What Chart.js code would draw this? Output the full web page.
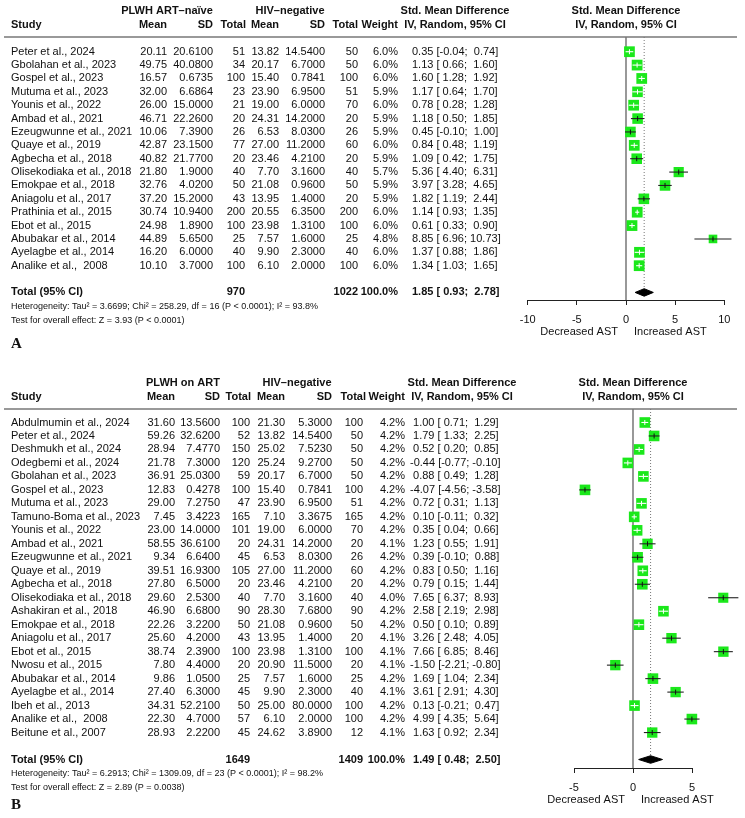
<!DOCTYPE html>
<html><head><meta charset="utf-8">
<script src="https://cdn.jsdelivr.net/npm/chart.js@4.4.1/dist/chart.umd.min.js"></script>
<style>
html,body{margin:0;padding:0;background:#fff;}
#wrap{position:relative;width:745px;height:818px;overflow:hidden;background:#fff;}
canvas{position:absolute;left:0;}
</style></head><body>
<div id="wrap">
<canvas id="cA" width="745" height="360" style="top:0;width:745px;height:360px"></canvas>
<canvas id="cB" width="745" height="458" style="top:360px;width:745px;height:458px"></canvas>
</div>
<script>
// ---------- Panel A data ----------
const studiesA = ["Peter et al., 2024","Gbolahan et al., 2023","Gospel et al., 2023","Mutuma et al., 2023","Younis et al., 2022","Ambad et al., 2021","Ezeugwunne et al., 2021","Quaye et al., 2019","Agbecha et al., 2018","Olisekodiaka et al., 2018","Emokpae et al., 2018","Aniagolu et al., 2017","Prathinia et al., 2015","Ebot et al., 2015","Abubakar et al., 2014","Ayelagbe et al., 2014","Analike et al.,  2008"];
const meanExpA = [20.11,49.75,16.57,32.00,26.00,46.71,10.06,42.87,40.82,21.80,32.76,37.20,30.74,24.98,44.89,16.20,10.10];
const sdExpA = [20.61,40.08,0.6735,6.6864,15.0,22.26,7.39,23.15,21.77,1.9,4.02,15.2,10.94,1.89,5.65,6.0,3.7];
const nExpA = [51,34,100,23,21,20,26,77,20,40,50,43,200,100,25,40,100];
const meanCtlA = [13.82,20.17,15.40,23.90,19.00,24.31,6.53,27.00,23.46,7.70,21.08,13.95,20.55,23.98,7.57,9.90,6.10];
const sdCtlA = [14.54,6.70,0.7841,6.95,6.0,14.2,8.03,11.2,4.21,3.16,0.96,1.4,6.35,1.31,1.6,2.3,2.0];
const nCtlA = [50,50,100,51,70,20,26,60,20,40,50,20,200,100,25,40,100];
const weightA = [6.0,6.0,6.0,5.9,6.0,5.9,5.9,6.0,5.9,5.7,5.9,5.9,6.0,6.0,4.8,6.0,6.0];
const smdA = [0.35,1.13,1.60,1.17,0.78,1.18,0.45,0.84,1.09,5.36,3.97,1.82,1.14,0.61,8.85,1.37,1.34];
const lowerA = [-0.04,0.66,1.28,0.64,0.28,0.50,-0.10,0.48,0.42,4.40,3.28,1.19,0.93,0.33,6.96,0.88,1.03];
const upperA = [0.74,1.60,1.92,1.70,1.28,1.85,1.00,1.19,1.75,6.31,4.65,2.44,1.35,0.90,10.73,1.86,1.65];
const totalsA = [970, 1022];
const pooledA = [1.85, 0.93, 2.78];
const hetA = ["3.6699", "258.29", "16", "< 0.0001", "93.8"];
const testA = ["3.93", "< 0.0001"];
const ticksA = [-10, -5, 0, 5, 10];

// ---------- Panel B data ----------
const studiesB = ["Abdulmumin et al., 2024","Peter et al., 2024","Deshmukh et al., 2024","Odegbemi et al., 2024","Gbolahan et al., 2023","Gospel et al., 2023","Mutuma et al., 2023","Tamuno-Boma et al., 2023","Younis et al., 2022","Ambad et al., 2021","Ezeugwunne et al., 2021","Quaye et al., 2019","Agbecha et al., 2018","Olisekodiaka et al., 2018","Ashakiran et al., 2018","Emokpae et al., 2018","Aniagolu et al., 2017","Ebot et al., 2015","Nwosu et al., 2015","Abubakar et al., 2014","Ayelagbe et al., 2014","Ibeh et al., 2013","Analike et al.,  2008","Beitune et al., 2007"];
const meanExpB = [31.60,59.26,28.94,21.78,36.91,12.83,29.00,7.45,23.00,58.55,9.34,39.51,27.80,29.60,46.90,22.26,25.60,38.74,7.80,9.86,27.40,34.31,22.30,28.93];
const sdExpB = [13.56,32.62,7.477,7.3,25.03,0.4278,7.275,3.4223,14.0,36.61,6.64,16.93,6.5,2.53,6.68,3.22,4.2,2.39,4.4,1.05,6.3,52.21,4.7,2.22];
const nExpB = [100,52,150,120,59,100,47,165,101,20,45,105,20,40,90,50,43,100,20,25,45,50,57,45];
const meanCtlB = [21.30,13.82,25.02,25.24,20.17,15.40,23.90,7.10,19.00,24.31,6.53,27.00,23.46,7.70,28.30,21.08,13.95,23.98,20.90,7.57,9.90,25.00,6.10,24.62];
const sdCtlB = [5.3,14.54,7.523,9.27,6.7,0.7841,6.95,3.3675,6.0,14.2,8.03,11.2,4.21,3.16,7.68,0.96,1.4,1.31,11.5,1.6,2.3,80.0,2.0,3.89];
const nCtlB = [100,50,50,50,50,100,51,165,70,20,26,60,20,40,90,50,20,100,20,25,40,100,100,12];
const weightB = [4.2,4.2,4.2,4.2,4.2,4.2,4.2,4.2,4.2,4.1,4.2,4.2,4.2,4.0,4.2,4.2,4.1,4.1,4.1,4.2,4.1,4.2,4.2,4.1];
const smdB = [1.00,1.79,0.52,-0.44,0.88,-4.07,0.72,0.10,0.35,1.23,0.39,0.83,0.79,7.65,2.58,0.50,3.26,7.66,-1.50,1.69,3.61,0.13,4.99,1.63];
const lowerB = [0.71,1.33,0.20,-0.77,0.49,-4.56,0.31,-0.11,0.04,0.55,-0.10,0.50,0.15,6.37,2.19,0.10,2.48,6.85,-2.21,1.04,2.91,-0.21,4.35,0.92];
const upperB = [1.29,2.25,0.85,-0.10,1.28,-3.58,1.13,0.32,0.66,1.91,0.88,1.16,1.44,8.93,2.98,0.89,4.05,8.46,-0.80,2.34,4.30,0.47,5.64,2.34];
const totalsB = [1649, 1409];
const pooledB = [1.49, 0.48, 2.50];
const hetB = ["6.2913", "1309.09", "23", "< 0.0001", "98.2"];
const testB = ["2.89", "= 0.0038"];
const ticksB = [-5, 0, 5];

// ---------- rendering ----------
const FONT = '"Liberation Sans", Arial, Helvetica, sans-serif';
const GREEN = '#1be81b';
Chart.defaults.font.family = FONT;
Chart.defaults.color = '#111';

function effStr(e, l, u, w) {
  const f = v => v.toFixed(2);
  return f(e).padStart(w[0]) + ' [' + f(l).padStart(w[1]) + '; ' + f(u).padStart(w[2]) + ']';
}

function makePanel(id, D, L) {
  const n = D.studies.length;
  const totRow = n + 1;
  const maxW = Math.max(...D.weight);
  const sideOf = i => L.sqMax * D.weight[i] / maxW;
  const inside = (chart, i) => {
    const xs = chart.scales.x;
    return Math.abs(xs.getPixelForValue(D.upper[i]) - xs.getPixelForValue(D.lower[i])) < sideOf(i);
  };
  const ci = [], est = [];
  for (let i = 0; i < n; i++) {
    ci.push({x: D.lower[i], y: i}, {x: D.upper[i], y: i}, {x: null, y: null});
    est.push({x: D.smd[i], y: i});
  }
  const wid = [0, 0, 0];
  D.smd.concat([D.pooled[0]]).forEach(v => wid[0] = Math.max(wid[0], v.toFixed(2).length));
  D.lower.concat([D.pooled[1]]).forEach(v => wid[1] = Math.max(wid[1], v.toFixed(2).length));
  D.upper.concat([D.pooled[2]]).forEach(v => wid[2] = Math.max(wid[2], v.toFixed(2).length));
  const dh = 0.28;
  const tMin = D.ticks[0], tMax = D.ticks[D.ticks.length - 1];
  const padR = 12;
  const xMax = tMin + (745 - padR - L.minPx) / L.ppu;

  const textPlugin = {
    id: 'tableText',
    afterDraw(chart) {
      const ctx = chart.ctx, ys = chart.scales.y, xs = chart.scales.x, ca = chart.chartArea, C = L.cols;
      const R = '11px ' + FONT, B = 'bold 11px ' + FONT, S = '9px ' + FONT;
      const put = (t, x, y, align, font) => { ctx.font = font; ctx.textAlign = align; ctx.fillText(t, x, y); };
      ctx.save();
      const a0 = xs.getPixelForValue(tMin), a1 = xs.getPixelForValue(tMax);
      ctx.strokeStyle = '#222'; ctx.lineWidth = 1;
      ctx.beginPath(); ctx.moveTo(a0, ca.bottom + 0.5); ctx.lineTo(a1, ca.bottom + 0.5); ctx.stroke();

      ctx.fillStyle = '#111';
      ctx.textBaseline = 'middle';
      const h1 = ca.top - 26, h2 = ca.top - 12;
      const pc = (a0 + a1) / 2;
      put(L.expLabel, C.expC, h1, 'center', B);
      put('HIV\u2013negative', C.ctlC, h1, 'center', B);
      put('Std. Mean Difference', C.effC, h1, 'center', B);
      put('Std. Mean Difference', pc, h1, 'center', B);
      put('Study', C.study, h2, 'left', B);
      put('Mean', C.m1, h2, 'right', B);
      put('SD', C.s1, h2, 'right', B);
      put('Total', C.n1h, h2, 'right', B);
      put('Mean', C.m2, h2, 'right', B);
      put('SD', C.s2, h2, 'right', B);
      put('Total', C.n2h, h2, 'right', B);
      put('Weight', C.w, h2, 'right', B);
      put('IV, Random, 95% CI', C.effC, h2, 'center', B);
      put('IV, Random, 95% CI', pc, h2, 'center', B);
      ctx.strokeStyle = '#777'; ctx.lineWidth = 1.5;
      ctx.beginPath(); ctx.moveTo(4, ca.top); ctx.lineTo(737, ca.top); ctx.stroke();
      for (let i = 0; i < n; i++) {
        const y = ys.getPixelForValue(i);
        put(D.studies[i], C.study, y, 'left', R);
        put(D.meanExp[i].toFixed(2), C.m1, y, 'right', R);
        put(D.sdExp[i].toFixed(4), C.s1, y, 'right', R);
        put(String(D.nExp[i]), C.n1, y, 'right', R);
        put(D.meanCtl[i].toFixed(2), C.m2, y, 'right', R);
        put(D.sdCtl[i].toFixed(4), C.s2, y, 'right', R);
        put(String(D.nCtl[i]), C.n2, y, 'right', R);
        put(D.weight[i].toFixed(1) + '%', C.w, y, 'right', R);
        put(effStr(D.smd[i], D.lower[i], D.upper[i], wid), C.eff, y, 'left', R);
      }
      const ty = ys.getPixelForValue(totRow);
      put('Total (95% CI)', C.study, ty, 'left', B);
      put(String(D.totals[0]), C.n1, ty, 'right', B);
      put(String(D.totals[1]), C.n2, ty, 'right', B);
      put('100.0%', C.w, ty, 'right', B);
      put(effStr(D.pooled[0], D.pooled[1], D.pooled[2], wid), C.eff, ty, 'left', B);
      const H = D.het;
      put('Heterogeneity: Tau\u00b2 = ' + H[0] + '; Chi\u00b2 = ' + H[1] + ', df = ' + H[2] + ' (P ' + H[3] + '); I\u00b2 = ' + H[4] + '%', C.study, ty + 14, 'left', S);
      put('Test for overall effect: Z = ' + D.test[0] + ' (P ' + D.test[1] + ')', C.study, ty + 28, 'left', S);
      put(L.tag, C.study, ty + L.tagOff, 'left', 'bold 15px "Liberation Serif", "Times New Roman", serif');
      const x0 = xs.getPixelForValue(0);
      put('Decreased AST', x0 - 8, ca.bottom + 32, 'right', R);
      put('Increased AST', x0 + 8, ca.bottom + 32, 'left', R);
      ctx.restore();
    }
  };

  return new Chart(document.getElementById(id), {
    type: 'line',
    data: {
      datasets: [
        { label: 'estimate', data: est, showLine: false, pointStyle: 'line', rotation: 90, pointRadius: 2.5,
          pointBorderWidth: 1, pointBorderColor: c => inside(c.chart, c.dataIndex) ? '#ffffff' : '#111111',
          order: 1, clip: false },
        { label: 'ci', data: ci, borderWidth: 1.1, borderColor: '#222', pointRadius: 0, spanGaps: false,
          segment: { borderColor: c => inside(c.chart, Math.floor(c.p0DataIndex / 3)) ? '#ffffff' : '#222222' },
          order: 2, clip: false },
        { label: 'squares', data: est.map(p => ({x: p.x, y: p.y})), showLine: false, pointStyle: 'rect',
          pointRadius: c => sideOf(c.dataIndex) / Math.SQRT2, pointBackgroundColor: GREEN, pointBorderColor: GREEN,
          pointBorderWidth: 0, order: 3, clip: false },
        { label: 'pooled', data: [
            {x: D.pooled[1], y: totRow}, {x: D.pooled[0], y: totRow - dh}, {x: D.pooled[2], y: totRow},
            {x: D.pooled[0], y: totRow + dh}, {x: D.pooled[1], y: totRow}],
          fill: 'shape', backgroundColor: '#000', borderColor: '#000', borderWidth: 1, pointRadius: 0, tension: 0,
          order: 4, clip: false },
        { label: 'overall', data: [{x: D.pooled[0], y: L.yMin}, {x: D.pooled[0], y: totRow - dh}],
          borderColor: '#777', borderWidth: 1, borderDash: [1, 2], pointRadius: 0, order: 5, clip: false },
        { label: 'null', data: [{x: 0, y: L.yMin}, {x: 0, y: L.yMax}],
          borderColor: '#555', borderWidth: 1.2, pointRadius: 0, order: 6, clip: false }
      ]
    },
    options: {
      responsive: false, animation: false, events: [],
      layout: { padding: { left: L.minPx, right: padR, top: L.top, bottom: L.padB } },
      plugins: { legend: { display: false }, tooltip: { enabled: false } },
      scales: {
        x: { type: 'linear', min: tMin, max: xMax,
             afterBuildTicks: s => { s.ticks = D.ticks.map(v => ({value: v})); },
             afterFit: s => { s.height = 30; },
             ticks: { font: { size: 11, family: FONT }, color: '#111', padding: 8, maxRotation: 0 },
             grid: { display: true, drawOnChartArea: false, drawTicks: true, tickLength: 5, color: '#222', lineWidth: 1 },
             border: { display: false } },
        y: { type: 'linear', reverse: true, min: L.yMin, max: L.yMax, display: false }
      }
    },
    plugins: [textPlugin]
  });
}

makePanel('cA', {
  studies: studiesA, meanExp: meanExpA, sdExp: sdExpA, nExp: nExpA, meanCtl: meanCtlA, sdCtl: sdCtlA, nCtl: nCtlA,
  weight: weightA, smd: smdA, lower: lowerA, upper: upperA, totals: totalsA, pooled: pooledA, het: hetA, test: testA, ticks: ticksA
}, {
  minPx: 527.7, ppu: 9.83, top: 37, padB: 30, yMin: -1.1, yMax: 18.565, sqMax: 10.75,
  expLabel: 'PLWH ART\u2013na\u00efve', tag: 'A', tagOff: 52,
  cols: { study: 11, m1: 167, s1: 213, n1: 245, n1h: 246, m2: 279, s2: 325, n2: 358, n2h: 358, w: 398, eff: 412, expC: 167, ctlC: 290, effC: 455 }
});

makePanel('cB', {
  studies: studiesB, meanExp: meanExpB, sdExp: sdExpB, nExp: nExpB, meanCtl: meanCtlB, sdCtl: sdCtlB, nCtl: nCtlB,
  weight: weightB, smd: smdB, lower: lowerB, upper: upperB, totals: totalsB, pooled: pooledB, het: hetB, test: testB, ticks: ticksB
}, {
  minPx: 574, ppu: 11.8, top: 49, padB: 20, yMin: -1.0, yMax: 25.63, sqMax: 10.6,
  expLabel: 'PLWH on ART', tag: 'B', tagOff: 46,
  cols: { study: 11, m1: 175, s1: 220, n1: 250, n1h: 251, m2: 285, s2: 332, n2: 363, n2h: 366, w: 405, eff: 410, expC: 183, ctlC: 297, effC: 462 }
});
</script>
</body></html>
